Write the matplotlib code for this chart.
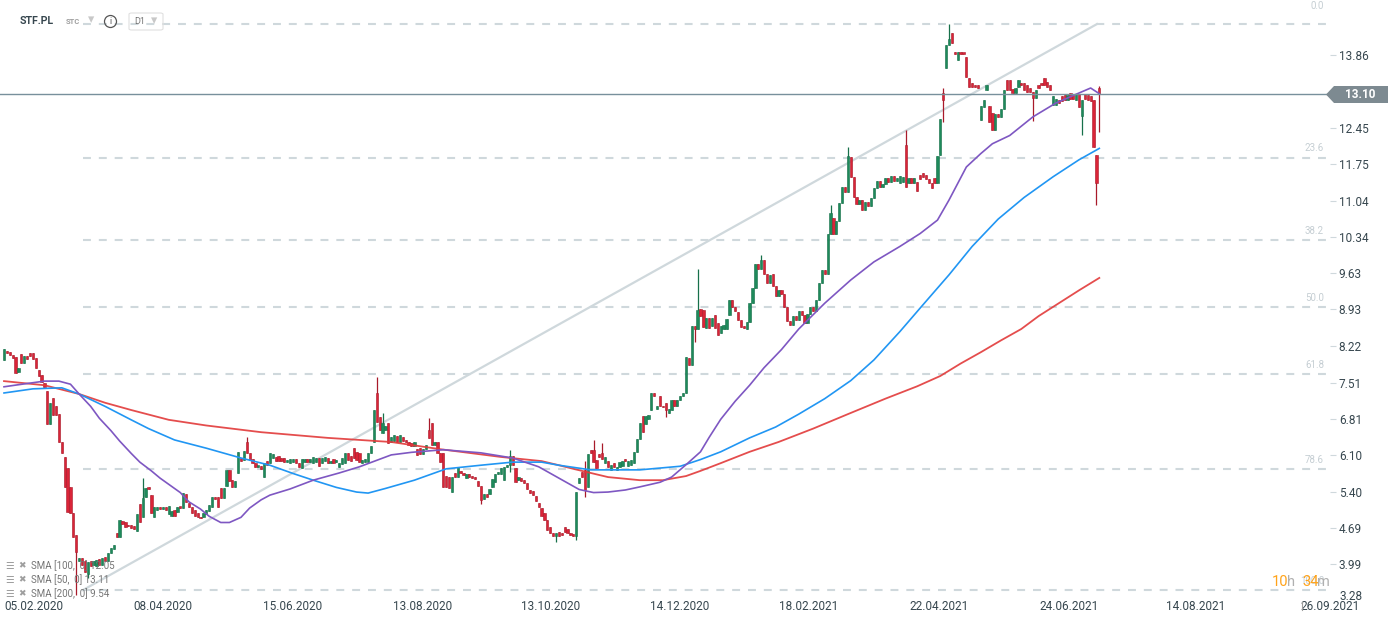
import numpy as np
import matplotlib
matplotlib.use('Agg')
import matplotlib.pyplot as plt
import matplotlib.transforms as mtransforms
from matplotlib.patches import Polygon, Ellipse, FancyBboxPatch
from matplotlib.lines import Line2D

# daily candles, STF.PL (bar index 0 = late Jan 2020)
opens = [
    7.95, 8.12, 8.10, 8.05, 8.00, 7.72, 8.06, 7.90, 8.02, 8.08,
    8.08, 7.98, 7.75, 7.66, 7.50, 7.35, 6.70, 7.22, 7.05, 6.90,
    6.36, 6.07, 5.86, 5.49, 4.98, 4.56, 4.05, 4.12, 4.06, 3.80,
    4.05, 3.98, 3.96, 4.10, 3.98, 4.14, 4.05, 4.20, 4.29, 4.60,
    4.52, 4.82, 4.80, 4.76, 4.75, 4.74, 4.64, 5.15, 4.90, 5.30,
    5.49, 5.33, 4.91, 5.04, 5.10, 5.06, 5.10, 4.96, 4.92, 5.04,
    5.00, 5.10, 5.08, 5.36, 5.18, 5.10, 5.04, 4.98, 4.90, 4.90,
    4.96, 5.03, 5.10, 5.30, 5.30, 5.47, 5.28, 5.50, 5.82, 5.62,
    5.49, 5.75, 6.05, 6.02, 6.36, 6.15, 6.03, 5.95, 5.88, 5.90,
    5.68, 6.00, 5.95, 6.05, 6.07, 6.08, 6.05, 6.05, 5.98, 5.96,
    5.98, 6.03, 5.95, 5.85, 5.98, 6.03, 5.98, 5.95, 5.98, 6.05,
    5.96, 6.00, 6.05, 5.95, 6.04, 5.98, 5.88, 5.94, 5.96, 6.14,
    6.08, 6.24, 6.16, 6.14, 5.96, 5.97, 5.98, 6.15, 6.36, 7.31,
    6.84, 6.53, 6.59, 6.73, 6.36, 6.38, 6.48, 6.36, 6.46, 6.40,
    6.36, 6.34, 6.28, 6.22, 6.24, 6.12, 6.22, 6.59, 6.73, 6.30,
    6.36, 6.15, 6.15, 5.70, 5.68, 5.40, 5.76, 5.68, 5.80, 5.76,
    5.66, 5.74, 5.70, 5.68, 5.60, 5.50, 5.26, 5.35, 5.35, 5.48,
    5.58, 5.74, 5.74, 5.63, 5.88, 5.92, 6.08, 5.86, 5.62, 5.66,
    5.62, 5.57, 5.43, 5.42, 5.32, 5.18, 5.08, 4.98, 4.85, 4.71,
    4.60, 4.54, 4.62, 4.60, 4.71, 4.67, 4.60, 4.57, 4.54, 5.57,
    5.78, 5.82, 5.49, 6.21, 6.21, 6.01, 6.13, 6.15, 5.95, 6.00,
    5.82, 5.95, 5.82, 5.88, 5.90, 6.03, 5.90, 5.92, 5.96, 6.17,
    6.42, 6.86, 6.70, 6.80, 6.98, 7.31, 7.00, 7.25, 7.06, 7.12,
    6.92, 6.98, 7.17, 7.05, 7.17, 7.25, 7.31, 7.99, 7.86, 8.61,
    8.55, 8.94, 8.92, 8.57, 8.76, 8.60, 8.82, 8.66, 8.48, 8.55,
    8.55, 8.82, 9.11, 8.98, 8.88, 8.72, 8.60, 8.55, 8.68, 9.05,
    9.35, 9.80, 9.72, 9.88, 9.62, 9.45, 9.62, 9.38, 9.18, 9.30,
    9.22, 8.98, 8.70, 8.62, 8.80, 8.72, 8.90, 8.82, 8.66, 8.85,
    8.98, 8.90, 9.12, 9.45, 9.70, 9.62, 10.40, 10.70, 10.40, 10.65,
    11.00, 11.30, 11.20, 11.88, 11.50, 11.10, 10.98, 11.05, 10.85, 11.02,
    10.94, 11.08, 11.28, 11.42, 11.30, 11.36, 11.48, 11.40, 11.52, 11.42,
    11.38, 11.40, 12.12, 11.38, 11.48, 11.38, 11.40, 11.53, 11.57, 11.54,
    11.46, 11.38, 11.48, 11.38, 11.92, 13.12, 13.60, 14.05, 14.28, 13.92,
    13.76, 13.92, 13.90, 13.82, 13.42, 13.32, 13.28, 13.28, 12.60, 12.85,
    13.18, 12.88, 12.74, 12.41, 12.72, 12.66, 12.82, 13.38, 13.38, 13.20,
    13.12, 13.24, 13.32, 13.32, 13.28, 13.22, 13.14, 13.02, 13.28, 13.32,
    13.42, 13.34, 13.28, 12.90, 12.90, 12.99, 13.06, 13.08, 12.99, 13.12,
    13.08, 12.99, 13.10, 12.68, 13.10, 13.08, 13.06, 12.99, 11.92, 13.22,
]
closes = [
    8.17, 8.08, 8.05, 7.99, 7.70, 7.80, 7.90, 8.02, 7.97, 8.03,
    7.97, 7.80, 7.64, 7.52, 7.42, 6.70, 7.12, 6.88, 6.88, 6.36,
    6.15, 5.49, 5.00, 4.98, 4.52, 4.23, 4.12, 3.98, 3.85, 4.03,
    3.96, 4.06, 4.08, 3.98, 4.12, 4.05, 4.20, 4.30, 4.36, 4.52,
    4.85, 4.77, 4.72, 4.73, 4.70, 4.68, 4.97, 4.80, 5.28, 5.47,
    5.44, 4.98, 5.10, 5.10, 5.06, 5.10, 5.04, 5.12, 5.03, 4.92,
    5.10, 5.08, 5.38, 5.20, 5.10, 4.99, 4.92, 4.90, 4.88, 4.98,
    5.05, 5.13, 5.30, 5.26, 5.10, 5.28, 5.47, 5.82, 5.60, 5.49,
    5.60, 6.17, 6.00, 6.18, 6.15, 6.02, 5.95, 5.88, 5.90, 5.84,
    5.95, 5.92, 6.15, 6.12, 6.00, 6.00, 5.99, 5.98, 6.02, 6.03,
    6.04, 5.95, 5.88, 6.03, 6.03, 5.98, 6.04, 6.07, 6.05, 5.90,
    6.05, 6.06, 5.96, 6.00, 5.96, 6.02, 5.95, 6.05, 6.15, 6.02,
    6.00, 6.05, 6.02, 5.98, 6.01, 6.03, 6.15, 6.28, 6.98, 6.75,
    6.59, 6.73, 6.67, 6.34, 6.46, 6.50, 6.36, 6.50, 6.38, 6.36,
    6.30, 6.28, 6.36, 6.10, 6.12, 6.22, 6.30, 6.44, 6.30, 6.36,
    6.15, 5.97, 5.49, 5.49, 5.46, 5.68, 5.68, 5.88, 5.76, 5.72,
    5.74, 5.68, 5.66, 5.64, 5.50, 5.24, 5.35, 5.30, 5.44, 5.64,
    5.74, 5.78, 5.86, 5.88, 5.92, 6.08, 5.92, 5.58, 5.68, 5.60,
    5.57, 5.45, 5.38, 5.34, 5.22, 5.10, 4.93, 4.85, 4.66, 4.60,
    4.54, 4.60, 4.54, 4.56, 4.62, 4.60, 4.56, 4.54, 5.39, 5.66,
    5.68, 5.43, 6.12, 6.15, 5.97, 5.86, 6.07, 6.03, 6.07, 5.88,
    5.92, 5.87, 5.88, 5.98, 6.00, 5.99, 6.00, 6.02, 6.17, 6.42,
    6.73, 6.55, 6.86, 6.88, 7.31, 7.25, 7.06, 7.05, 7.03, 6.98,
    6.99, 7.17, 7.05, 7.17, 7.25, 7.31, 8.00, 7.86, 8.61, 8.55,
    8.92, 8.80, 8.58, 8.76, 8.57, 8.76, 8.57, 8.43, 8.60, 8.62,
    8.75, 9.11, 8.98, 8.90, 8.72, 8.58, 8.56, 8.68, 9.05, 9.35,
    9.80, 9.72, 9.88, 9.62, 9.45, 9.60, 9.38, 9.18, 9.30, 9.22,
    8.98, 8.70, 8.62, 8.80, 8.72, 8.90, 8.82, 8.66, 8.85, 8.98,
    8.90, 9.12, 9.45, 9.70, 9.62, 10.40, 10.80, 10.40, 10.65, 11.00,
    11.30, 11.20, 11.90, 11.50, 11.10, 10.98, 11.05, 10.85, 11.02, 10.94,
    11.08, 11.28, 11.42, 11.30, 11.36, 11.48, 11.40, 11.52, 11.42, 11.48,
    11.52, 11.50, 11.30, 11.48, 11.38, 11.48, 11.22, 11.46, 11.50, 11.46,
    11.38, 11.28, 11.38, 11.90, 12.62, 12.99, 14.05, 14.17, 14.10, 13.88,
    13.92, 13.88, 13.88, 13.44, 13.24, 13.24, 13.24, 13.22, 12.88, 12.99,
    13.28, 12.56, 12.41, 12.72, 12.66, 12.82, 13.18, 13.18, 13.18, 13.12,
    13.22, 13.38, 13.28, 13.18, 13.14, 13.14, 13.02, 13.18, 13.22, 13.28,
    13.28, 13.24, 13.18, 13.06, 13.00, 12.93, 12.96, 12.99, 13.08, 13.00,
    13.00, 13.10, 12.85, 12.99, 13.00, 12.98, 12.96, 12.08, 11.38, 13.10,
]
# visible wicks (bar index -> price)
wick_hi = {48: 5.66, 84: 6.45, 129: 7.62, 131: 6.92, 147: 6.82, 175: 6.20,
           201: 6.00, 204: 6.40, 207: 6.35, 240: 9.71, 262: 9.98, 286: 10.95,
           292: 12.08, 312: 12.41, 325: 13.22, 327: 14.46, 379: 13.26}
wick_lo = {25: 3.40, 29: 3.72, 165: 5.15, 175: 5.78, 191: 4.42, 198: 4.46,
           201: 5.30, 229: 6.85, 239: 8.30, 325: 12.56, 356: 12.58, 373: 12.30,
           378: 10.95, 379: 12.36}

# moving averages, sampled along the lines (bar index, value)
sma50_idx = [0, 5, 14, 19, 23, 26, 30, 33, 37, 40, 44, 47, 51, 54, 57, 61, 64, 68,
             71, 75, 78, 82, 85, 89, 92, 99, 107, 116, 123, 134, 141, 152, 165, 176,
             185, 192, 199, 204, 209, 215, 220, 227, 231, 236, 241, 244, 248, 253,
             258, 263, 269, 275, 284, 293, 301, 310, 317, 323, 327, 333, 338, 342,
             348, 356, 364, 371, 376, 379]
sma50_val = [7.43, 7.47, 7.54, 7.54, 7.48, 7.29, 7.05, 6.82, 6.58, 6.38, 6.14, 5.97,
             5.80, 5.66, 5.54, 5.38, 5.20, 5.06, 4.92, 4.80, 4.80, 4.90, 5.08, 5.24,
             5.33, 5.45, 5.62, 5.76, 5.88, 6.11, 6.16, 6.21, 6.15, 6.05, 5.88, 5.66,
             5.44, 5.38, 5.39, 5.43, 5.49, 5.58, 5.68, 5.92, 6.17, 6.45, 6.80, 7.15,
             7.46, 7.80, 8.15, 8.55, 9.05, 9.50, 9.85, 10.15, 10.40, 10.66, 11.05,
             11.69, 11.95, 12.14, 12.30, 12.66, 12.93, 13.10, 13.22, 13.11]
sma100_idx = [0, 10, 20, 26, 35, 44, 50, 59, 70, 82, 92, 100, 107, 115, 122, 126,
              132, 142, 153, 165, 176, 186, 192, 203, 220, 234, 241, 248, 258, 267,
              275, 284, 293, 301, 310, 318, 327, 335, 344, 353, 363, 372, 379]
sma100_val = [7.31, 7.39, 7.41, 7.29, 7.05, 6.79, 6.62, 6.40, 6.24, 6.05, 5.91, 5.75,
              5.62, 5.48, 5.39, 5.37, 5.46, 5.62, 5.84, 5.91, 5.97, 5.97, 5.91, 5.82,
              5.82, 5.89, 6.02, 6.17, 6.44, 6.65, 6.90, 7.20, 7.55, 7.95, 8.50, 9.02,
              9.60, 10.15, 10.68, 11.10, 11.50, 11.83, 12.05]
sma200_idx = [0, 14, 26, 35, 44, 57, 70, 89, 112, 134, 151, 172, 186, 192, 197, 209,
              220, 228, 236, 241, 248, 258, 268, 280, 292, 305, 316, 324, 331, 338,
              345, 352, 358, 365, 372, 379]
sma200_val = [7.54, 7.46, 7.29, 7.12, 6.98, 6.79, 6.68, 6.55, 6.44, 6.36, 6.22, 6.07,
              5.99, 5.91, 5.84, 5.68, 5.62, 5.62, 5.70, 5.80, 5.95, 6.17, 6.36, 6.62,
              6.90, 7.20, 7.44, 7.64, 7.88, 8.10, 8.33, 8.55, 8.80, 9.05, 9.30, 9.54]

# fibonacci retracement anchors
fib_low, fib_high = 3.49, 14.46
fib_ratios = [0.0, 23.6, 38.2, 50.0, 61.8, 78.6, 100.0]

last_price = 13.10
ytick_vals = [3.99, 4.69, 5.40, 6.10, 6.81, 7.51, 8.22, 8.93, 9.63,
              10.34, 11.04, 11.75, 12.45, 13.86]
bottom_tick = 3.28
date_labels = ['05.02.2020', '08.04.2020', '15.06.2020', '13.08.2020', '13.10.2020',
               '14.12.2020', '18.02.2021', '22.04.2021', '24.06.2021', '14.08.2021',
               '26.09.2021']
date_idx = [10.2, 55.0, 99.8, 144.8, 189.1, 233.9, 278.5, 323.4, 368.5, 412.2, 459.0]
legend_names = ['SMA [100,  0]', 'SMA [50,  0]', 'SMA [200,  0]']
legend_values = ['12.05', '13.11', '9.54']

plt.rcParams['font.family'] = ['Roboto', 'DejaVu Sans']

W, H = 1399, 627


def fx(x):
    return x / W


def fy(y):
    return 1 - y / H


fig = plt.figure(figsize=(W / 100, H / 100), dpi=100)
ax = fig.add_axes([0, fy(602), fx(1330), 602 / H])

# pixel layout of the reference: bar 0 at x=4, 2.89 px per bar; 13.86 at y=55, 51.6 px per unit
X0, DX = 4, 2.89
Y0, P0, PPU = 55, 13.86, 51.6
xmin, xmax = -X0 / DX, (1330 - X0) / DX
ax.set_xlim(xmin, xmax)
ax.set_ylim(P0 - (602 - Y0) / PPU, P0 + Y0 / PPU)
for s in ax.spines.values():
    s.set_visible(False)
ax.set_xticks([])

# fibonacci levels + trend line
fib_start, fib_end = 27.3, 378.2
for r in fib_ratios:
    lvl = fib_high - r / 100 * (fib_high - fib_low)
    ax.plot([fib_start, xmax], [lvl, lvl], color='#cfd8dc', lw=1.5,
            ls=(0, (3.8, 3.8)), zorder=1, solid_capstyle='butt')
    if r > 0:
        ax.annotate(f'{r:.1f}', xy=((1324 - X0) / DX, lvl), xytext=(0, 3),
                    textcoords='offset points', ha='right', va='bottom',
                    fontsize=7, color='#c5ced3', zorder=1)
    else:
        # the 0.0 tag is squeezed against the top edge
        fig.text(fx(1324), fy(1), f'{r:.1f}', ha='right', va='top',
                 fontsize=7, color='#c5ced3')
ax.plot([fib_start, fib_end], [fib_low, fib_high], color='#cfd8dc', lw=1.6, zorder=1)

# candles
o = np.array(opens)
c = np.array(closes)
idx = np.arange(len(o))
up = c >= o
top = np.maximum(o, c)
bot = np.minimum(o, c)
hi = top.copy()
lo = bot.copy()
for k, v in wick_hi.items():
    hi[k] = max(hi[k], v)
for k, v in wick_lo.items():
    lo[k] = min(lo[k], v)

green, green_e = '#1e8a5b', '#17704a'
red, red_e = '#da2438', '#a81a2a'
face = np.where(up, green, red)
edge = np.where(up, green_e, red_e)
ax.vlines(idx, lo, hi, colors=edge, lw=0.9, zorder=2)
ax.bar(idx, np.maximum(top - bot, 0.03), bottom=bot, width=0.78, color=face,
       edgecolor=edge, linewidth=0.4, zorder=2.1)

# moving averages
ax.plot(sma200_idx, sma200_val, color='#e23a3a', lw=1.3, zorder=3, alpha=0.9)
ax.plot(sma100_idx, sma100_val, color='#2196f3', lw=1.2, zorder=3)
ax.plot(sma50_idx, sma50_val, color='#7e57c2', lw=1.2, zorder=3)

# last price line
ax.axhline(last_price, color='#78909c', lw=1, zorder=4)

# right axis
ax.yaxis.tick_right()
ax.set_yticks(ytick_vals)
ax.set_yticklabels([f'{v:.2f}' for v in ytick_vals])
ax.tick_params(axis='y', length=4.3, width=0.8, color='#cfd8dc',
               labelcolor='#37474f', labelsize=8.5, pad=2)
# lowest price label is lifted a little in the reference
fig.text(fx(1339), fy(596), f'{bottom_tick:.2f}', fontsize=8.5, color='#37474f',
         va='center')

# date labels
trans = mtransforms.blended_transform_factory(ax.transData, fig.transFigure)
for lab, xi in zip(date_labels, date_idx):
    ax.text(xi, fy(607), lab, transform=trans, ha='center', va='center',
            fontsize=8.5, color='#37474f', clip_on=False)
fig.lines.append(Line2D([fx(1302), fx(1302)], [fy(602), fy(610)],
                        transform=fig.transFigure, color='#9e9e9e', lw=0.8))

# last price tag
tag = Polygon([(fx(1326), fy(94.5)), (fx(1334), fy(86)), (fx(1388), fy(86)),
               (fx(1388), fy(103)), (fx(1334), fy(103))], closed=True,
              transform=fig.transFigure, facecolor='#7d8a91', edgecolor='none')
fig.patches.append(tag)
fig.text(fx(1360), fy(94.5), f'{last_price:.2f}', ha='center', va='center',
         fontsize=8.5, fontweight='bold', color='white')

# header
fig.text(fx(20), fy(21), 'STF.PL', fontsize=7.6, fontweight='bold',
         color='#37474f', va='center')
fig.text(fx(66), fy(21), 'STC', fontsize=5.5, fontweight='bold',
         color='#a0a0a0', va='center')
fig.text(fx(91), fy(20), '▾', fontsize=9, color='#c8c8c8', ha='center',
         va='center', family='DejaVu Sans')
fig.patches.append(Ellipse((fx(110.5), fy(21.5)), 12 / W, 12 / H,
                           transform=fig.transFigure, fill=False,
                           edgecolor='#555555', lw=0.9))
fig.text(fx(110.5), fy(21.5), 'i', fontsize=6.5, color='#555555',
         ha='center', va='center')
fig.patches.append(FancyBboxPatch((fx(129), fy(30)), 34 / W, 17 / H,
                                  boxstyle='round,pad=0,rounding_size=0.002',
                                  transform=fig.transFigure, fill=False,
                                  edgecolor='#e0e0e0', lw=0.8))
fig.text(fx(134), fy(21.5), 'D1', fontsize=6.5, color='#757575', va='center')
fig.text(fx(154), fy(20.5), '▾', fontsize=9, color='#c8c8c8', ha='center',
         va='center', family='DejaVu Sans')

# legend of indicators
for k, (name, val) in enumerate(zip(legend_names, legend_values)):
    yy = fy(566 + 14 * k)
    fig.text(fx(5), yy, '☰', fontsize=7, color='#9e9e9e', va='center',
             family='DejaVu Sans')
    fig.text(fx(18), yy, '✖', fontsize=6.5, color='#9e9e9e', va='center',
             family='DejaVu Sans')
    fig.text(fx(31), yy, f'{name} {val}', fontsize=7, color='#757575',
             va='center')

# session countdown
fig.text(fx(1272), fy(582), '10', fontsize=10.5, color='#ffa31a', va='center')
fig.text(fx(1286.5), fy(582), 'h', fontsize=10.5, color='#b0b0b0', va='center')
fig.text(fx(1302), fy(582), '34', fontsize=10.5, color='#ffa31a', va='center')
fig.text(fx(1316.5), fy(582), 'm', fontsize=10.5, color='#b0b0b0', va='center')

fig.savefig('out.png', dpi=100)
